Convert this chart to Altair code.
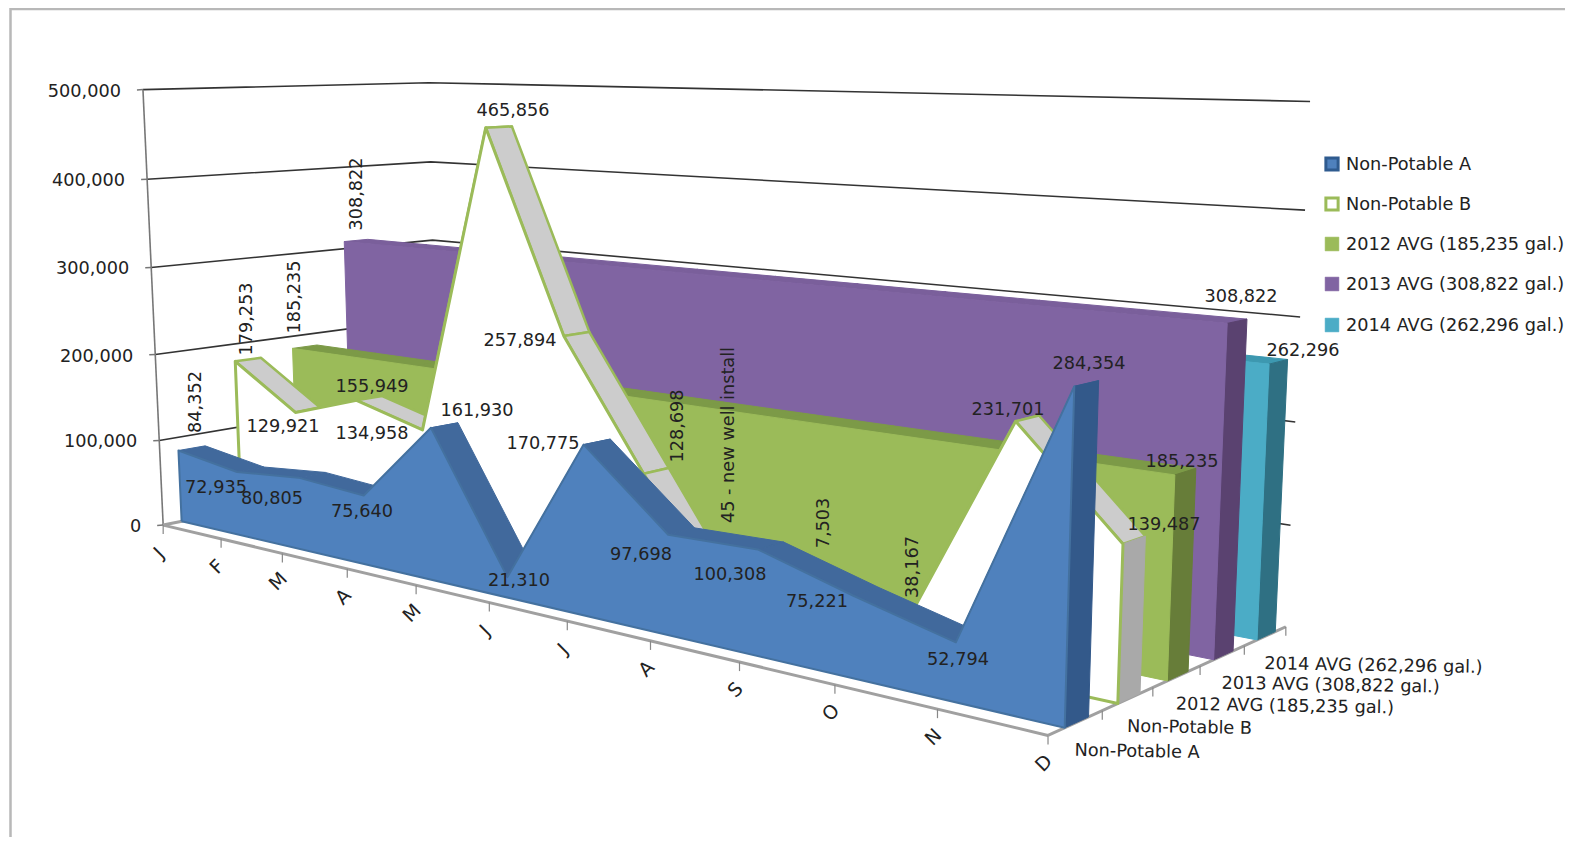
import numpy as np
import pandas as pd
import altair as alt

MONTHS = ["J", "F", "M", "A", "M", "J", "J", "A", "S", "O", "N", "D"]
NON_POTABLE_A = [84352, 72935, 80805, 75640, 161930, 21310, 170775, 97698, 100308, 75221, 52794, 284354]
NON_POTABLE_B = [179253, 129921, 155949, 134958, 465856, 257894, 128698, 45, 7503, 38167, 231701, 139487]
AVG_2012 = [185235] * 12
AVG_2013 = [308822] * 12
AVG_2014 = [262296] * 12
SERIES_NAMES = ["Non-Potable A", "Non-Potable B", "2012 AVG (185,235 gal.)",
                "2013 AVG (308,822 gal.)", "2014 AVG (262,296 gal.)"]
VALUE_TICKS = [0, 100000, 200000, 300000, 400000, 500000]

FONT = "DejaVu Sans"
FS = 17.7
W, H = 1557, 829

# camera fitted to the picture's 3D box: (month/11, depth, value/500000) -> page pixels
CAM = [
    (0, 0, 0, 163, 524), (0, 0, 1, 143, 91), (0, 0, .8, 146, 179), (0, 0, .6, 150, 268),
    (0, 1, 1, 431, 83), (0, 1, .8, 431, 161), (0, 1, .6, 431, 241),
    (1, 0, 0, 1048, 733), (1, 1, 0, 1285, 627), (1, 1, 1, 1310, 101),
    (1, 1, .8, 1305, 210), (1, 1, .6, 1300, 316), (1, 1, .4, 1295, 421), (1, 1, .2, 1291, 523),
    (2 / 11, 0, 0, 283, 553), (5 / 11, 0, 0, 490, 602), (8 / 11, 0, 0, 742, 661),
    (1, .2, 0, 1101, 712), (1, .4, 0, 1153, 690), (1, .6, 0, 1200, 668), (1, .8, 0, 1244, 648),
]
rows = []
for u, v, w, x, y in CAM:
    x, y = x / 1000, y / 1000
    rows.append([u, v, w, 1, 0, 0, 0, 0, -x * u, -x * v, -x * w, -x])
    rows.append([0, 0, 0, 0, u, v, w, 1, -y * u, -y * v, -y * w, -y])
P = np.linalg.svd(np.array(rows))[2][-1].reshape(3, 4)


def proj(m, depth, value):
    h = P @ np.array([m / 11, depth, value / 500000, 1.0])
    return float(h[0] / h[2] * 1000), float(h[1] / h[2] * 1000)


layers = []
X = alt.X("x:Q", scale=alt.Scale(domain=[8, 8 + W]), axis=None)
Y = alt.Y("y:Q", scale=alt.Scale(domain=[8 + H, 8]), axis=None)


def polys(shapes, fill, stroke=None, sw=0.0):
    recs = []
    for i, pts in enumerate(shapes):
        closed = list(pts) + [pts[0]]
        for k, (x, y) in enumerate(closed):
            recs.append({"p": f"p{i:03d}", "k": k, "x": x, "y": y})
    return alt.Chart(pd.DataFrame(recs)).mark_line(
        fill=fill, stroke=stroke or fill, strokeWidth=sw if stroke else 1,
        strokeJoin="round", clip=True
    ).encode(x=X, y=Y, detail="p:N", order="k:Q")


def lines(segs, color, sw):
    recs = []
    for i, pts in enumerate(segs):
        for k, (x, y) in enumerate(pts):
            recs.append({"p": f"s{i:03d}", "k": k, "x": x, "y": y})
    return alt.Chart(pd.DataFrame(recs)).mark_line(color=color, strokeWidth=sw).encode(
        x=X, y=Y, detail="p:N", order="k:Q")


def texts(recs, angle=0, align="center", color="#222222", baseline="middle", size=FS):
    return alt.Chart(pd.DataFrame(recs)).mark_text(
        font=FONT, fontSize=size, angle=angle, align=align, baseline=baseline, color=color
    ).encode(x=X, y=Y, text="t:N")


# page frame
layers.append(lines([[(10.5, 837), (10.5, 9), (1565, 9)]], "#b8b8b8", 2.5))

# walls
grid = []
for t in VALUE_TICKS[1:]:
    grid.append([proj(0, 0, t), proj(0, 1, t), proj(11, 1, t)])
layers.append(lines(grid, "#333333", 1.6))
layers.append(lines([[proj(0, 0, 0), proj(0, 0, 500000)]], "#777777", 1.6))
stubs = []
for t in VALUE_TICKS:
    x, y = proj(0, 0, t)
    stubs.append([(x - 6, y + 0.3), (x, y)])
layers.append(lines(stubs, "#777777", 1.5))

# floor edges and ticks
floor = [[proj(0, 0, 0), proj(11, 0, 0)], [proj(11, 0, 0), proj(11, 1, 0)], [proj(0, 0, 0), proj(0, 0.09, 0)]]
layers.append(lines(floor, "#a0a0a0", 3))
ticks = []
for m in range(12):
    x, y = proj(m, 0, 0)
    ticks.append([(x, y), (x, y + 9)])
for i in range(1, 6):
    x, y = proj(11, i / 5, 0)
    ticks.append([(x, y), (x, y + 9)])
layers.append(lines(ticks, "#888888", 1.2))

STYLE = [
    dict(front="#4f81bd", edge="#44719f", sw=2, top="#41699c", topedge="#41699c", cap="#33598a"),
    dict(front="#ffffff", edge="#9bbb59", sw=3, top="#cccccc", topedge="#9bbb59", cap="#a9a9a9"),
    dict(front="#9bbb59", edge="#9bbb59", sw=1, top="#7c9a47", topedge="#7c9a47", cap="#677d39"),
    dict(front="#8064a2", edge="#8064a2", sw=1, top="#7a5f9b", topedge="#7a5f9b", cap="#5a4270"),
    dict(front="#4bacc6", edge="#4bacc6", sw=1, top="#3d98b0", topedge="#3d98b0", cap="#2f7083"),
]
ALL = [NON_POTABLE_A, NON_POTABLE_B, AVG_2012, AVG_2013, AVG_2014]
D0, D1 = 0.30, 0.74
for i in range(4, -1, -1):
    s, st = ALL[i], STYLE[i]
    v0, v1 = (i + D0) / 5, (i + D1) / 5
    tops = [[proj(m, v0, s[m]), proj(m + 1, v0, s[m + 1]), proj(m + 1, v1, s[m + 1]), proj(m, v1, s[m])]
            for m in range(11)]
    layers.append(polys(tops, st["top"], st["topedge"], 2.5 if i == 1 else 1))
    cap = [proj(11, v0, 0), proj(11, v1, 0), proj(11, v1, s[11]), proj(11, v0, s[11])]
    layers.append(polys([cap], st["cap"], st["cap"], 1))
    face = [proj(0, v0, 0)] + [proj(m, v0, s[m]) for m in range(12)] + [proj(11, v0, 0)]
    layers.append(polys([face], st["front"], st["edge"], st["sw"]))

# value axis labels
layers.append(texts([{"t": f"{t:,}", "x": proj(0, 0, t)[0] - 22, "y": proj(0, 0, t)[1] + 2} for t in VALUE_TICKS], align="right"))

# month labels
layers.append(texts([{"t": MONTHS[m], "x": proj(m, 0, 0)[0] - 4, "y": proj(m, 0, 0)[1] + 28} for m in range(12)], angle=315, size=19))

# depth axis labels
layers.append(texts([{"t": n, "x": proj(11, (i + .5) / 5, 0)[0] - 1, "y": proj(11, (i + .5) / 5, 0)[1] + 28}
                     for i, n in enumerate(SERIES_NAMES)], align="left", angle=1))

# data labels: placement, text from the values
fmt = lambda v: f"{v:,}"
HORIZ = [
    (fmt(NON_POTABLE_A[1]), 216, 488), (fmt(NON_POTABLE_A[2]), 272, 499), (fmt(NON_POTABLE_A[3]), 362, 512),
    (fmt(NON_POTABLE_A[4]), 477, 411), (fmt(NON_POTABLE_A[5]), 519, 581), (fmt(NON_POTABLE_A[6]), 543, 444),
    (fmt(NON_POTABLE_A[7]), 641, 555), (fmt(NON_POTABLE_A[8]), 730, 575), (fmt(NON_POTABLE_A[9]), 817, 602),
    (fmt(NON_POTABLE_A[10]), 958, 660), (fmt(NON_POTABLE_A[11]), 1089, 364),
    (fmt(NON_POTABLE_B[1]), 283, 427), (fmt(NON_POTABLE_B[2]), 372, 387), (fmt(NON_POTABLE_B[3]), 372, 434),
    (fmt(NON_POTABLE_B[4]), 513, 111), (fmt(NON_POTABLE_B[5]), 520, 341), (fmt(NON_POTABLE_B[10]), 1008, 410),
    (fmt(NON_POTABLE_B[11]), 1164, 525),
    (fmt(AVG_2012[11]), 1182, 462), (fmt(AVG_2013[11]), 1241, 297), (fmt(AVG_2014[11]), 1303, 351),
]
VERT = [
    (fmt(NON_POTABLE_A[0]), 196, 402), (fmt(NON_POTABLE_B[0]), 247, 319), (fmt(AVG_2012[0]), 295, 297),
    (fmt(AVG_2013[0]), 357, 194), (fmt(NON_POTABLE_B[6]), 678, 426),
    (f"{NON_POTABLE_B[7]} - new well install", 729, 435), (fmt(NON_POTABLE_B[8]), 824, 523),
    (fmt(NON_POTABLE_B[9]), 913, 567),
]
layers.append(texts([{"t": t, "x": x, "y": y} for t, x, y in HORIZ]))
layers.append(texts([{"t": t, "x": x, "y": y} for t, x, y in VERT], angle=270))

# legend
LEG_Y = [165, 205, 245, 285, 326]
LEG_FILL = ["#4f81bd", "#ffffff", "#9bbb59", "#8064a2", "#4bacc6"]
LEG_EDGE = ["#2f5b8f", "#9bbb59", "#9bbb59", "#8064a2", "#4bacc6"]
for y, f, e, sz in zip(LEG_Y, LEG_FILL, LEG_EDGE, [150, 150, 190, 190, 190]):
    layers.append(alt.Chart(pd.DataFrame([{"x": 1332, "y": y - 1}])).mark_square(
        size=sz, fill=f, stroke=e, strokeWidth=3 if sz == 150 else 0.5, opacity=1).encode(x=X, y=Y))
layers.append(texts([{"t": n, "x": 1346, "y": y} for n, y in zip(SERIES_NAMES, LEG_Y)], align="left"))

chart = alt.layer(*layers).properties(width=W, height=H, padding=0, autosize="none", background="white").configure_view(stroke=None)
chart.save("out.html", embed_options={"renderer": "svg", "actions": False})
